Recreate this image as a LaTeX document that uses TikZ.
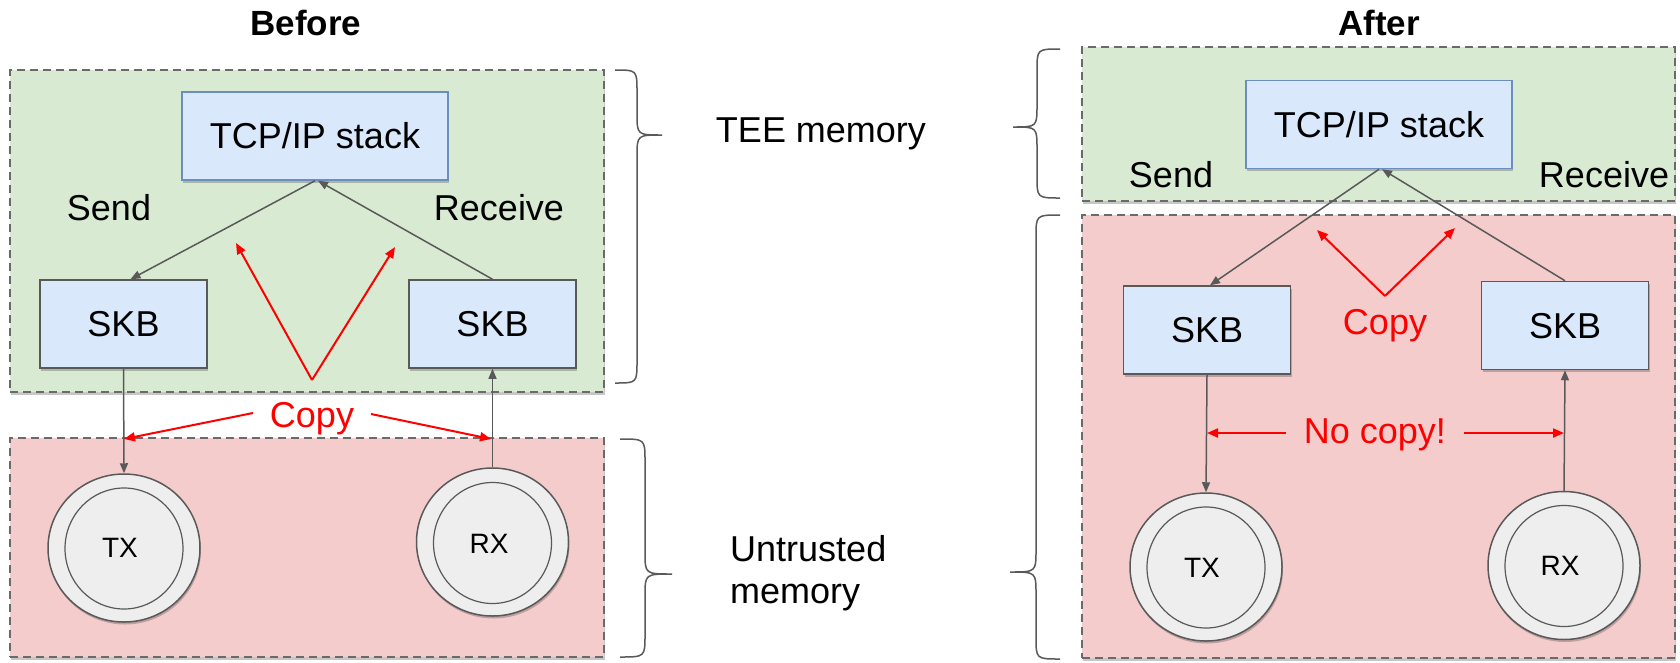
\documentclass[tikz,border=0pt]{standalone}
\usepackage{fontspec}
\setmainfont{Liberation Sans}
\usetikzlibrary{shapes.geometric,arrows.meta,shadows}

\definecolor{teefill}{HTML}{D9EAD3}
\definecolor{untrfill}{HTML}{F4CCCC}
\definecolor{boxfill}{HTML}{DAE8FC}
\definecolor{tcpline}{HTML}{6C8EBF}
\definecolor{edgegray}{HTML}{595959}
\definecolor{ringfill}{HTML}{EEEEEE}
\definecolor{copyred}{HTML}{FF0000}

% curly brace: end x, spine x, tip x, top y, tip y, bottom y
\newcommand\memorybrace[6]{%
  \draw[bracestyle] (#1,#4) .. controls (#2,#4) .. (#2,#4+22)
    -- (#2,#5-22) .. controls (#2,#5) .. (#3,#5)
    .. controls (#2,#5) .. (#2,#5+22)
    -- (#2,#6-22) .. controls (#2,#6) .. (#1,#6);}

\begin{document}
\begin{tikzpicture}[x=1pt,y=-1pt,
  softshadow/.style={drop shadow={shadow xshift=1pt,shadow yshift=-2.5pt,opacity=0.22,fill=black}},
  region/.style={draw=edgegray!90,line width=1.5pt,dash pattern=on 8pt off 5pt,softshadow,inner sep=0pt},
  tcpbox/.style={draw=tcpline,line width=1.5pt,fill=boxfill,softshadow,minimum width=266pt,minimum height=88pt,
    font=\fontsize{36}{43}\selectfont,text height=25.8pt,text depth=0pt,inner sep=0pt},
  skbbox/.style={draw=edgegray,line width=1.5pt,fill=boxfill,softshadow,minimum width=167pt,minimum height=88pt,
    font=\fontsize{36}{43}\selectfont,text height=25.8pt,text depth=0pt,inner sep=0pt},
  ringout/.style={ellipse,draw=edgegray,line width=1.5pt,fill=ringfill,softshadow,minimum width=152pt,minimum height=148pt,inner sep=0pt},
  ringin/.style={ellipse,draw=edgegray,line width=1.2pt,minimum width=118pt,minimum height=121pt,inner sep=0pt},
  lbl/.style={font=\fontsize{36}{43}\selectfont,inner sep=0pt,anchor=base},
  ringlbl/.style={font=\fontsize{28}{34}\selectfont,inner sep=0pt,anchor=base},
  memlbl/.style={font=\fontsize{36}{42}\selectfont,inner sep=0pt},
  redlbl/.style={lbl,text=copyred},
  title/.style={font=\fontsize{35}{42}\selectfont\bfseries,inner sep=0pt,anchor=base},
  flow/.style={draw=edgegray,line width=1.5pt,-{Triangle[length=10pt,width=8pt]}},
  copyarrow/.style={draw=copyred,line width=2pt,-{Triangle[length=11pt,width=9pt]}},
  bracestyle/.style={draw=edgegray,line width=1.5pt}]

\useasboundingbox (0,0) rectangle (1680,662);

% ---------- titles ----------
\node[title] (tBefore) at (306,35) {Before};
\node[title] (tAfter) at (1379,35) {After};

% ---------- memory regions ----------
\node[region,fill=teefill,minimum width=594pt,minimum height=322pt] (teeA) at (307,231) {};
\node[region,fill=untrfill,minimum width=594pt,minimum height=219pt] (untA) at (307,547.5) {};
\node[region,fill=teefill,minimum width=593pt,minimum height=154pt] (teeB) at (1378.5,124) {};
\node[region,fill=untrfill,minimum width=593pt,minimum height=443pt] (untB) at (1378.5,436.5) {};

% ---------- before: nodes ----------
\node[tcpbox] (tcpA) at (315,136) {TCP/IP stack};
\node[skbbox] (skbSA) at (123.5,324) {SKB};
\node[skbbox] (skbRA) at (492.5,324) {SKB};
\node[ringout] (txA) at (124,548) {};
\node[ringin] (txAi) at (124,548.5) {};
\node[ringlbl] (txAl) at (120,557) {TX};
\node[ringout] (rxA) at (492.5,542) {};
\node[ringin] (rxAi) at (492.5,543) {};
\node[ringlbl] (rxAl) at (489,553) {RX};

\node[lbl] (sendA) at (109,220) {Send};
\node[lbl] (recvA) at (499,220) {Receive};

% ---------- after: nodes ----------
\node[tcpbox] (tcpB) at (1379,124.5) {TCP/IP stack};
\node[skbbox] (skbSB) at (1207,330) {SKB};
\node[skbbox] (skbRB) at (1565,325.5) {SKB};
\node[ringout] (txB) at (1206,567) {};
\node[ringin] (txBi) at (1206,567.5) {};
\node[ringlbl] (txBl) at (1202,577) {TX};
\node[ringout] (rxB) at (1564,565.5) {};
\node[ringin] (rxBi) at (1564,566) {};
\node[ringlbl] (rxBl) at (1560,575) {RX};

\node[lbl] (sendB) at (1171,187) {Send};
\node[lbl] (recvB) at (1604,187) {Receive};

% ---------- data paths ----------
\draw[flow] (tcpA.south) -- ([xshift=7pt]skbSA.north);
\draw[flow] (skbRA.north) -- ([xshift=3pt]tcpA.south);
\draw[flow] (skbSA.south) -- (txA.north);
\draw[flow] (rxA.north) -- (skbRA.south);

\draw[flow] (tcpB.south) -- ([xshift=3pt]skbSB.north);
\draw[flow] (skbRB.north) -- ([xshift=3pt]tcpB.south);
\draw[flow] (skbSB.south) -- (txB.north);
\draw[flow] (rxB.north) -- (skbRB.south);

% ---------- copy markers, before ----------
\coordinate (vA) at (312,380);
\coordinate (vAl) at (236,243);
\coordinate (vAr) at (395,247);
\draw[copyarrow] (vA) -- (vAl);
\draw[copyarrow] (vA) -- (vAr);

\node[redlbl] (copyA) at (312,427) {Copy};
\coordinate (cAl) at (253,413);
\coordinate (cAr) at (371,414);
\coordinate (cAlt) at (124,439);
\coordinate (cArt) at (491,439);
\draw[copyarrow] (cAl) -- (cAlt);
\draw[copyarrow] (cAr) -- (cArt);

% ---------- copy markers, after ----------
\coordinate (vB) at (1385,296);
\coordinate (vBl) at (1317,230);
\coordinate (vBr) at (1455,228);
\draw[copyarrow] (vB) -- (vBl);
\draw[copyarrow] (vB) -- (vBr);
\node[redlbl] (copyB) at (1385,334) {Copy};

\node[redlbl] (nocopy) at (1375,443) {No copy!};
\coordinate (nBl) at (1286,433);
\coordinate (nBr) at (1464,433);
\coordinate (nBlt) at (1207,433);
\coordinate (nBrt) at (1564,433);
\draw[copyarrow] (nBl) -- (nBlt);
\draw[copyarrow] (nBr) -- (nBrt);

% ---------- braces and memory labels ----------
\memorybrace{615}{637}{662}{70}{135}{383}
\memorybrace{620}{645}{672}{439}{574}{657}
\memorybrace{1060}{1037}{1013}{49}{127}{198}
\memorybrace{1060}{1036}{1010}{215}{572}{659}

\node[memlbl,anchor=base] (teeLbl) at (821,142) {TEE memory};
% the base of a two-line node sits on its last line
\node[memlbl,anchor=base west,align=left] (untLbl) at (730,603) {Untrusted\\memory};

\end{tikzpicture}
\end{document}
